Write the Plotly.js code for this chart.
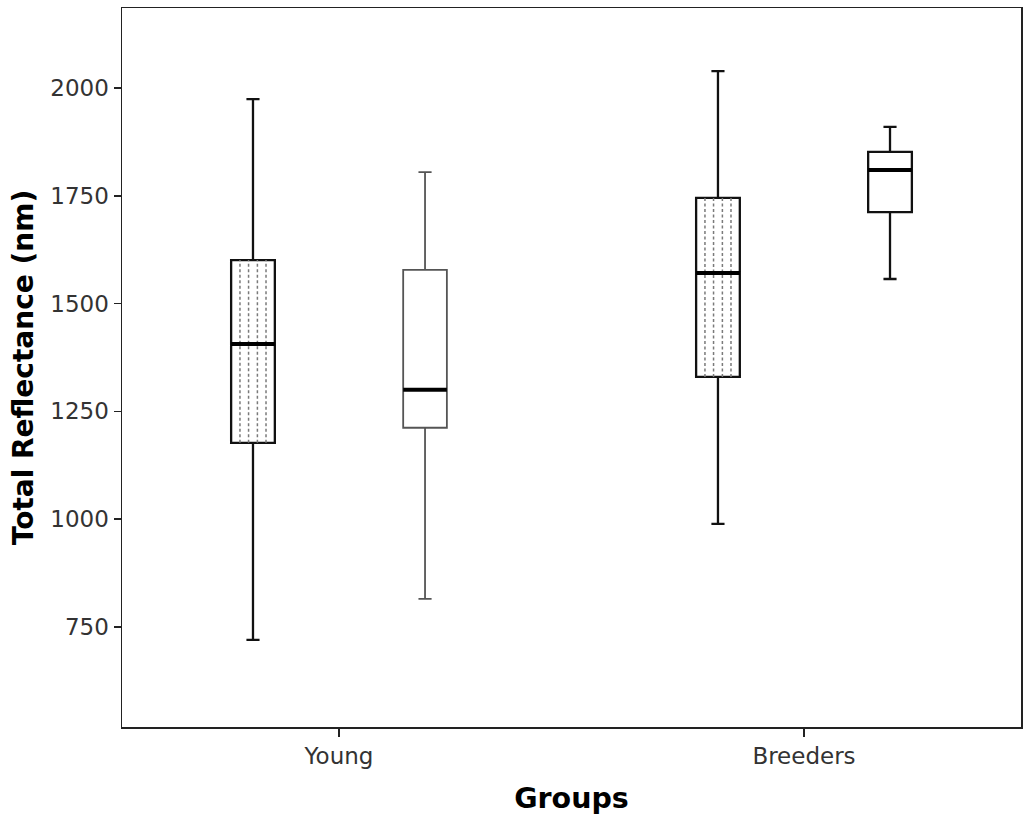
<!DOCTYPE html>
<html>
<head>
<meta charset="utf-8">
<script src="https://cdn.plot.ly/plotly-3.0.1.min.js"></script>
<style>html,body{margin:0;padding:0;background:#fff;}#chart{width:1024px;height:819px;}</style>
</head>
<body>
<div id="chart"></div>
<script>
// Data
const groups = ['Young', 'Breeders'];
const series = ['Patterned', 'Plain'];
const lowerWhisker = { Patterned: [720, 989], Plain: [815, 1557] };
const q1Values     = { Patterned: [1177, 1330], Plain: [1212, 1712] };
const medianValues = { Patterned: [1406, 1571], Plain: [1300, 1810] };
const q3Values     = { Patterned: [1601, 1745], Plain: [1578, 1852] };
const upperWhisker = { Patterned: [1974, 2039], Plain: [1805, 1910] };
const yTicks = [750, 1000, 1250, 1500, 1750, 2000];

// Layout/style (not data)
const groupPos = [1, 2];
const seriesOffset = { Patterned: -0.185, Plain: 0.185 };
const boxWidth = 0.094;
const dotOffsets = [-0.028, -0.0095, 0.0095, 0.028];
const lineStyle = {
  Patterned: { color: '#111', width: 2.3 },
  Plain: [{ color: '#555', width: 1.8 }, { color: '#111', width: 2.3 }]
};

const traces = [];
const dots = [];
const medians = [];
series.forEach(s => {
  groups.forEach((g, i) => {
    const xc = groupPos[i] + seriesOffset[s];
    const ls = s === 'Patterned' ? lineStyle.Patterned : lineStyle.Plain[i];
    traces.push({
      type: 'box',
      name: s + ' ' + g,
      x: [xc],
      q1: [q1Values[s][i]],
      median: [medianValues[s][i]],
      q3: [q3Values[s][i]],
      lowerfence: [lowerWhisker[s][i]],
      upperfence: [upperWhisker[s][i]],
      width: boxWidth,
      whiskerwidth: 0.3,
      boxpoints: false,
      fillcolor: '#ffffff',
      line: { color: ls.color, width: ls.width },
      hoverinfo: 'skip',
      showlegend: false
    });
    if (s === 'Patterned') {
      dotOffsets.forEach(d => {
        dots.push({
          type: 'scatter', mode: 'lines',
          x: [xc + d, xc + d],
          y: [q1Values[s][i], q3Values[s][i]],
          line: { color: '#7a7a7a', width: 1.5, dash: '3px,2.5px' },
          hoverinfo: 'skip', showlegend: false
        });
      });
    }
    medians.push({
      type: 'scatter', mode: 'lines',
      x: [xc - boxWidth / 2, xc + boxWidth / 2],
      y: [medianValues[s][i], medianValues[s][i]],
      line: { color: '#000', width: 4 },
      hoverinfo: 'skip', showlegend: false
    });
  });
});

const layout = {
  width: 1024, height: 819,
  margin: { l: 122, r: 3, t: 8, b: 92 },
  paper_bgcolor: '#fff', plot_bgcolor: '#fff',
  showlegend: false,
  xaxis: {
    range: [0.5333, 2.4667],
    tickvals: groupPos, ticktext: groups,
    ticks: 'outside', ticklen: 8, tickwidth: 1.5, tickcolor: '#222',
    showline: true, linecolor: '#222', linewidth: 1.5, mirror: true,
    showgrid: false, zeroline: false,
    tickfont: { family: 'DejaVu Sans', size: 23, color: '#333' },
    title: { text: 'Groups', font: { family: 'DejaVu Sans', size: 28.5, color: '#000', weight: 'bold' }, standoff: 20 }
  },
  yaxis: {
    range: [518, 2185.5],
    tickvals: yTicks, ticktext: yTicks.map(String),
    ticks: 'outside', ticklen: 7, tickwidth: 1.5, tickcolor: '#222',
    showline: true, linecolor: '#222', linewidth: 1.5, mirror: true,
    showgrid: false, zeroline: false,
    tickfont: { family: 'DejaVu Sans', size: 23, color: '#333' },
    title: { text: 'Total Reflectance (nm)', font: { family: 'DejaVu Sans', size: 28, color: '#000', weight: 'bold' }, standoff: 8 }
  }
};

Plotly.newPlot('chart', traces.concat(dots, medians), layout, { displayModeBar: false, staticPlot: true });
</script>
</body>
</html>
